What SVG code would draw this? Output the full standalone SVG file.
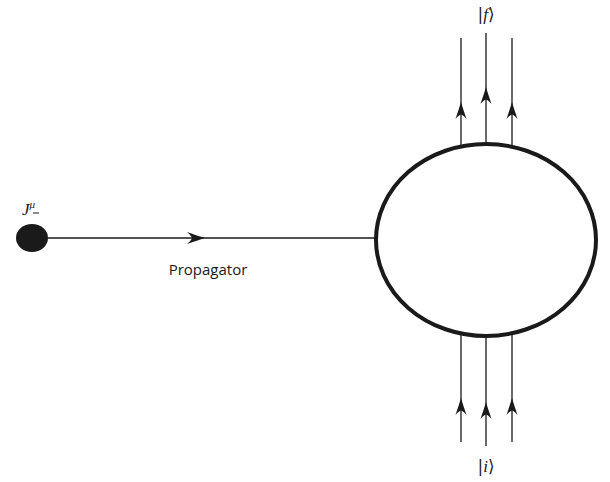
<svg xmlns="http://www.w3.org/2000/svg" width="610" height="482" viewBox="0 0 610 482">
<defs>
<style>
.ln{stroke:#1a1a1a;stroke-width:1.3;fill:none}
.ah{fill:#1a1a1a;stroke:none}
.math{font-family:"Liberation Serif","DejaVu Serif",serif;font-size:17px;fill:#1a1a1a}
.br{font-family:"DejaVu Serif",serif;font-style:normal}
.lbl{font-family:"Open Sans","DejaVu Sans",sans-serif;font-size:15px;fill:#1a1a1a}
</style>
<path id="up" d="M0,0 C1.5,5 3.5,11 5.5,17 C3.5,14.5 1.5,13 0,12.5 C-1.5,13 -3.5,14.5 -5.5,17 C-3.5,11 -1.5,5 0,0 Z"/>
<path id="right" d="M0,0 C-5,-1.5 -11,-3.5 -18,-6 C-15,-3.5 -13.5,-1.5 -13,0 C-13.5,1.5 -15,3.5 -18,6 C-11,3.5 -5,1.5 0,0 Z"/>
</defs>
<g id="connectors">
<line class="ln" x1="48" y1="238" x2="376" y2="238"/>
<use href="#right" class="ah" x="205" y="238"/>
<line class="ln" x1="461" y1="38" x2="461" y2="146"/>
<line class="ln" x1="486" y1="33" x2="486" y2="143"/>
<line class="ln" x1="512" y1="38" x2="512" y2="146"/>
<use href="#up" class="ah" x="461" y="102"/>
<use href="#up" class="ah" x="486" y="87"/>
<use href="#up" class="ah" x="512" y="102"/>
<line class="ln" x1="461" y1="334" x2="461" y2="442"/>
<line class="ln" x1="486" y1="337" x2="486" y2="446"/>
<line class="ln" x1="512" y1="334" x2="512" y2="442"/>
<use href="#up" class="ah" x="461" y="398"/>
<use href="#up" class="ah" x="486" y="402"/>
<use href="#up" class="ah" x="512" y="398"/>
</g>
<g id="source">
<ellipse cx="32" cy="238" rx="16" ry="14" fill="#1a1a1a"/>
<text class="math" x="22" y="215" font-style="italic">J<tspan font-size="11" dy="-7">μ</tspan></text>
<line x1="33" y1="213" x2="39" y2="213" stroke="#1a1a1a" stroke-width="1"/>
</g>
<g id="propagator-label">
<text class="lbl" x="208" y="275" text-anchor="middle">Propagator</text>
</g>
<g id="blob">
<ellipse cx="486" cy="240" rx="110" ry="96" fill="none" stroke="#1a1a1a" stroke-width="4"/>
</g>
<g id="final-state">
<text class="math" x="486" y="20" text-anchor="middle"><tspan class="br">|</tspan><tspan font-style="italic">f</tspan><tspan class="br">⟩</tspan></text>
</g>
<g id="initial-state">
<text class="math" x="486" y="472" text-anchor="middle"><tspan class="br">|</tspan><tspan font-style="italic">i</tspan><tspan class="br">⟩</tspan></text>
</g>
</svg>
